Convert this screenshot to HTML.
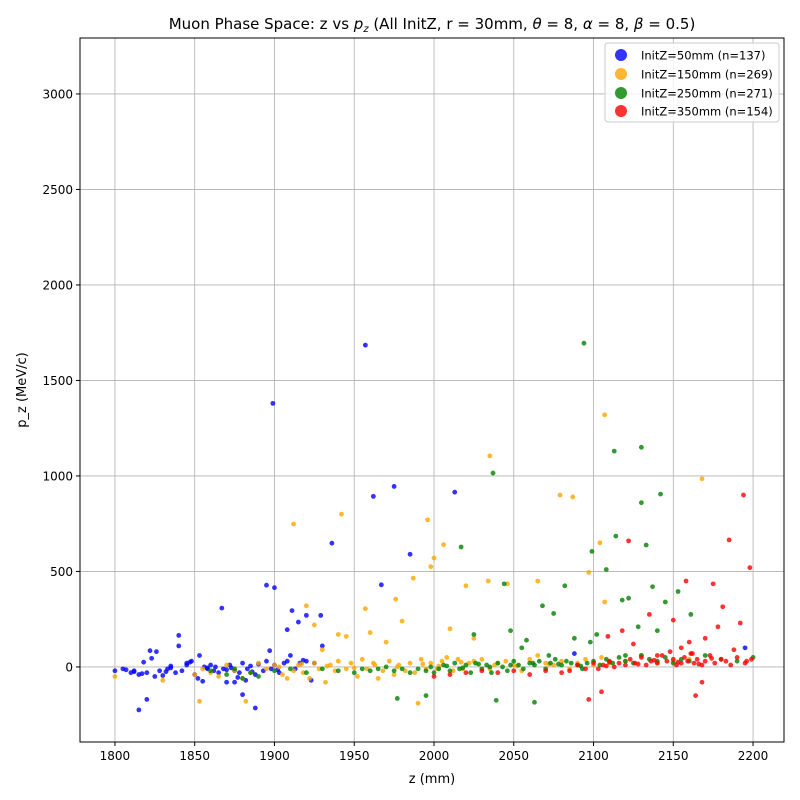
<!DOCTYPE html>
<html><head><meta charset="utf-8"><style>
body{margin:0;background:#fff;}
svg{display:block;font-family:"DejaVu Sans","Liberation Sans",sans-serif;}
</style></head><body>
<svg id="chart" width="800" height="800">
<rect x="0" y="0" width="800" height="800" fill="#fff"/>
<g id="grid"></g>
<g id="points"></g>
<rect x="80" y="38" width="704" height="704" fill="none" stroke="#000" stroke-width="1"/>
<g id="ticks"></g>
<text x="432" y="29" text-anchor="middle" font-size="15">Muon Phase Space: z vs <tspan font-style="italic">p</tspan><tspan font-size="10" dy="3" font-style="italic">z</tspan><tspan dy="-3"> (All InitZ, r = 30mm, </tspan><tspan font-style="italic">θ</tspan><tspan> = 8, </tspan><tspan font-style="italic">α</tspan><tspan> = 8, </tspan><tspan font-style="italic">β</tspan><tspan> = 0.5)</tspan></text>
<text x="432" y="783" text-anchor="middle" font-size="13">z (mm)</text>
<text x="26" y="390" text-anchor="middle" font-size="13" transform="rotate(-90 26 390)">p_z (MeV/c)</text>
<g>
<rect x="605" y="43" width="174" height="79" rx="3" fill="#fff" fill-opacity="0.8" stroke="#ccc"/>
<circle cx="621" cy="55" r="6" fill="#0000ff" fill-opacity="0.8"/>
<text x="641" y="59.5" font-size="11.5">InitZ=50mm (n=137)</text>
<circle cx="621" cy="74" r="6" fill="#ffa500" fill-opacity="0.8"/>
<text x="641" y="78.5" font-size="11.5">InitZ=150mm (n=269)</text>
<circle cx="621" cy="93" r="6" fill="#008000" fill-opacity="0.8"/>
<text x="641" y="97.5" font-size="11.5">InitZ=250mm (n=271)</text>
<circle cx="621" cy="111" r="6" fill="#ff0000" fill-opacity="0.8"/>
<text x="641" y="115.5" font-size="11.5">InitZ=350mm (n=154)</text>
</g>
</svg>
<script>
const xTicks=[1800,1850,1900,1950,2000,2050,2100,2150,2200];
const yTicks=[0,500,1000,1500,2000,2500,3000];
const blueZ=[1800,1805,1810,1812,1815,1818,1820,1822,1825,1828,1830,1833,1835,1838,1840,1842,1845,1848,1850,1853,1855,1858,1860,1862,1865,1868,1870,1872,1875,1878,1880,1883,1885,1888,1890,1893,1895,1898,1900,1903,1906,1908,1910,1913,1916,1920,1923,1925,1930,1957,1899,1962,1975,2013,1936,1985,1967,1895,1900,1867,1840,1911,1915,1920,1929,1908,1815,1820,1888,1880,1897,1875,1823,1826,1845,1852,1858,1863,1877,1882,2195,2088,1812,1835,1870,1807,1817,1832,1847,1856,1873,1886,1902,1918];
const blueP=[-20,-10,-30,-20,-40,25,-30,85,-50,-20,-45,-10,5,-30,110,-20,10,30,-40,60,-75,-10,10,-20,-30,-10,-80,10,-20,-30,20,-10,5,-40,15,-20,30,-10,10,-30,20,30,60,-10,20,30,-70,20,110,1685,1380,893,945,915,648,590,430,428,415,308,165,295,235,270,270,195,-225,-170,-215,-145,85,-80,45,80,20,-60,-5,0,-55,-70,100,70,-25,-5,-15,-15,-35,-25,25,0,-5,-25,-15,35];
const orangeZ=[1800,1830,1850,1855,1860,1865,1870,1875,1880,1885,1890,1895,1900,1905,1908,1912,1915,1918,1922,1925,1928,1932,1935,1938,1940,1945,1948,1952,1955,1958,1962,1965,1968,1972,1975,1978,1982,1985,1988,1992,1995,1998,2002,2005,2008,2012,2015,2018,2022,2025,2030,2035,2040,2045,2050,2055,2060,2065,2070,2075,2080,2085,2090,2095,2100,2105,2110,2120,2130,2140,2150,2160,2035,2107,2168,2079,2087,1942,1996,1912,2006,2104,2000,1998,2097,1987,2107,2034,2046,2065,2020,1976,1957,1920,1990,1853,1882,1930,1945,1960,1980,2010,2025,1925,1940,1970,1903,1917,1933,1950,1963,1977,1993,2003,2017,2038,2052,2072];
const orangeP=[-50,-70,-40,-10,-30,-50,10,-20,-60,-30,20,-10,10,-40,-60,-20,10,-30,-60,20,-10,-80,10,-20,30,-10,20,-50,40,-10,20,-60,-20,30,-40,10,-20,20,-30,40,-10,20,-10,30,50,-20,40,-10,20,30,40,-10,20,30,10,-20,40,60,20,10,30,-10,20,40,10,50,20,30,60,20,30,40,1105,1320,985,900,890,800,770,748,640,650,570,525,495,465,340,450,435,450,425,355,305,320,-190,-180,-180,90,160,180,240,200,150,220,170,130,0,15,5,-5,10,0,15,5,25,10,5,15];
const greenZ=[1860,1870,1875,1880,1885,1890,1900,1910,1920,1930,1940,1950,1955,1960,1965,1970,1975,1980,1985,1990,1995,2000,2003,2006,2010,2013,2016,2020,2023,2026,2030,2033,2036,2040,2043,2046,2050,2053,2056,2060,2063,2066,2070,2073,2076,2080,2083,2086,2090,2093,2096,2100,2104,2108,2112,2116,2120,2125,2130,2135,2140,2145,2150,2155,2160,2170,2180,2190,2200,2094,2113,2130,2037,2142,2130,2114,2133,2017,2099,2108,2044,2122,2082,2137,2153,2161,2063,2039,1977,1995,2025,2048,2058,2068,2075,2088,2102,2118,2128,2140,2055,2072,2098,2120,2145,1998,2008,2018,2028,2035,2048,2062,2078,2092,2110];
const greenP=[-20,-40,-10,-60,-30,-50,-20,-10,-30,-10,-20,-30,-10,-20,-10,0,-20,-10,-30,-10,-20,-30,-10,10,-20,20,-10,10,-30,20,-10,10,-30,20,0,-20,30,10,-10,20,10,30,-10,20,40,10,30,20,10,-10,20,30,10,40,20,50,30,20,60,40,30,50,20,40,30,60,40,30,50,1695,1130,1150,1015,905,860,685,638,628,605,510,435,360,425,420,395,275,-185,-175,-165,-150,170,190,140,320,280,150,170,350,210,190,100,60,130,60,340,0,5,-5,15,0,10,20,15,5,25];
const redZ=[2000,2010,2020,2030,2040,2050,2060,2070,2080,2085,2090,2095,2100,2103,2106,2110,2113,2116,2120,2123,2126,2130,2133,2136,2140,2143,2146,2150,2152,2155,2157,2159,2161,2163,2165,2168,2170,2173,2176,2180,2183,2186,2190,2195,2199,2194,2185,2122,2198,2175,2158,2135,2150,2181,2109,2164,2105,2097,2168,2155,2160,2148,2170,2188,2140,2118,2125,2178,2192,2162,2108,2128,2138,2153,2166,2174,2196];
const redP=[-50,-40,-30,-20,-30,-20,-40,-20,-30,-20,10,-10,20,-10,10,30,0,20,10,40,20,50,10,30,20,60,30,40,10,20,50,30,70,20,40,10,30,60,20,40,30,10,50,20,40,900,665,660,520,435,450,275,245,315,160,-150,-130,-170,-80,100,130,80,150,90,60,190,120,210,230,70,5,15,35,25,15,45,30];
const X0=80,X1=784,Y0=38,Y1=742,XMIN=1778.1,XMAX=2219.4,YMIN=-393,YMAX=3293;
const sx=v=>X0+(v-XMIN)/(XMAX-XMIN)*(X1-X0);
const sy=v=>Y1-(v-YMIN)/(YMAX-YMIN)*(Y1-Y0);
const NS='http://www.w3.org/2000/svg';
const grid=document.getElementById('grid'),ticks=document.getElementById('ticks'),pts=document.getElementById('points');
function mk(tag,attrs,parent){const e=document.createElementNS(NS,tag);for(const k in attrs)e.setAttribute(k,attrs[k]);parent.appendChild(e);return e;}
xTicks.forEach(t=>{const x=sx(t);
 const g=mk('line',{x1:x,x2:x,y1:Y0,y2:Y1,stroke:'#b0b0b0','stroke-width':0.8},grid);
 
 
 const l=mk('line',{x1:x,x2:x,y1:Y1,y2:Y1+4,stroke:'#000'},ticks);
 
 
 const tx=mk('text',{x:x,y:Y1+18,'text-anchor':'middle','font-size':12},ticks);tx.textContent=t;
 
 
});
yTicks.forEach(t=>{const y=sy(t);
 const g=mk('line',{x1:X0,x2:X1,y1:y,y2:y,stroke:'#b0b0b0','stroke-width':0.8},grid);
 
 
 const l=mk('line',{x1:X0-4,x2:X0,y1:y,y2:y,stroke:'#000'},ticks);
 
 
 const tx=mk('text',{x:X0-7,y:y+4.5,'text-anchor':'end','font-size':12},ticks);tx.textContent=t;
 
 
});
[[blueZ,blueP,'#0000ff','initz-50'],[orangeZ,orangeP,'#ffa500','initz-150'],[greenZ,greenP,'#008000','initz-250'],[redZ,redP,'#ff0000','initz-350']].forEach(([zs,ps,c,n])=>{
 zs.forEach((z,i)=>{const p=mk('circle',{cx:sx(z),cy:sy(ps[i]),r:2.4,fill:c,'fill-opacity':0.8},pts);
  
  
 });
});
</script>
</body></html>
